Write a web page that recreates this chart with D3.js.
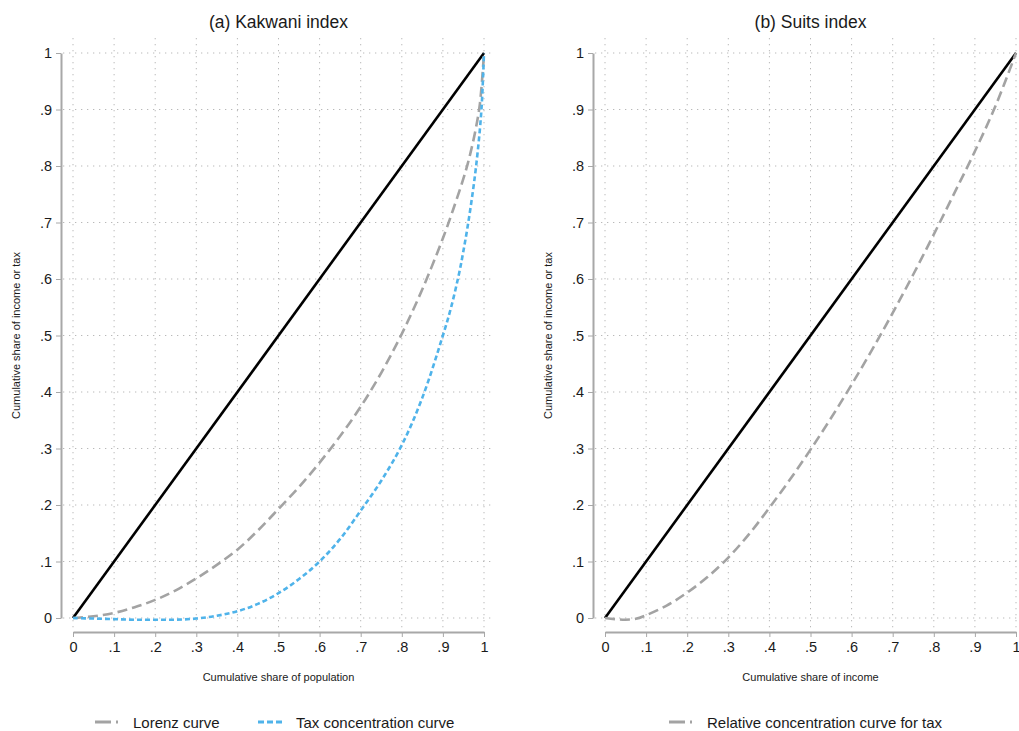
<!DOCTYPE html>
<html>
<head>
<meta charset="utf-8">
<script src="https://cdn.jsdelivr.net/npm/d3@7/dist/d3.min.js"></script>
<style>
  html, body { margin: 0; padding: 0; background: #fff; }
  svg { display: block; font-family: "Liberation Sans", Arial, sans-serif; }
</style>
</head>
<body>
<svg id="chart" width="1019" height="731"></svg>
<script>
// ---------------- DATA ----------------
const tickValues = [0, .1, .2, .3, .4, .5, .6, .7, .8, .9, 1];
const tickLabels = ["0", ".1", ".2", ".3", ".4", ".5", ".6", ".7", ".8", ".9", "1"];

const equalityX = [0, 1];
const equalityY = [0, 1];

const lorenzX = [0, .05, .1, .15, .2, .25, .3, .35, .4, .45, .5, .55, .6, .65, .7, .75, .8, .85, .9, .925, .95, .96, .97, .98, .99, 1];
const lorenzY = [0, .003, .009, .019, .032, .049, .07, .094, .121, .155, .193, .232, .275, .322, .374, .434, .503, .582, .672, .723, .778, .803, .832, .866, .91, 1];

const taxX = [0, .05, .1, .15, .2, .25, .3, .35, .4, .45, .5, .55, .6, .65, .7, .75, .8, .85, .9, .92, .94, .95, .96, .97, .98, .99, .995, 1];
const taxY = [0, -.001, -.002, -.003, -.003, -.003, -.001, .004, .012, .025, .044, .069, .1, .14, .19, .243, .306, .39, .5, .55, .612, .65, .692, .74, .795, .865, .915, 1];

const relX = [0, .025, .05, .075, .1, .15, .2, .25, .3, .35, .4, .45, .5, .55, .6, .65, .7, .75, .8, .85, .9, .95, 1];
const relY = [0, -.002, -.003, -.0015, .005, .022, .045, .073, .107, .148, .195, .245, .298, .354, .413, .475, .54, .608, .679, .752, .826, .906, 1];

const panelTitles = ["(a) Kakwani index", "(b) Suits index"];
const xTitles = ["Cumulative share of population", "Cumulative share of income"];
const yTitle = "Cumulative share of income or tax";
const legendA = ["Lorenz curve", "Tax concentration curve"];
const legendB = ["Relative concentration curve for tax"];

// ---------------- STYLES ----------------
const GRAY = "#a3a3a3";
const BLUE = "#4fb3ea";
const AXIS = "#a8a8a8";
const GRID = "#b9b9b9";

const svg = d3.select("#chart");

function zip(xs, ys) { return xs.map((x, i) => [x, ys[i]]); }

function panel(cfg) {
  const x = d3.scaleLinear().domain([0, 1]).range([cfg.x0, cfg.x1]);
  const y = d3.scaleLinear().domain([0, 1]).range([618, 53]);
  const g = svg.append("g");

  const gx0 = cfg.x0 - 10, gx1 = cfg.x1 + 11, gy0 = 38, gy1 = 628;
  g.append("g").selectAll("line.v").data(tickValues).join("line")
    .attr("x1", d => x(d)).attr("x2", d => x(d))
    .attr("y1", gy0).attr("y2", gy1)
    .attr("stroke", GRID).attr("stroke-width", 1).attr("stroke-dasharray", "1.3,4.7");
  g.append("g").selectAll("line.h").data(tickValues).join("line")
    .attr("x1", gx0).attr("x2", gx1)
    .attr("y1", d => y(d)).attr("y2", d => y(d))
    .attr("stroke", GRID).attr("stroke-width", 1).attr("stroke-dasharray", "1.3,4.7");

  const yAxis = d3.axisLeft(y).tickValues(tickValues).tickFormat((d, i) => tickLabels[i])
    .tickSize(5).tickPadding(4).tickSizeOuter(0);
  const ya = g.append("g").attr("transform", `translate(${cfg.x0 - 12},0)`).call(yAxis);
  const xAxis = d3.axisBottom(x).tickValues(tickValues).tickFormat((d, i) => tickLabels[i])
    .tickSize(5).tickPadding(5).tickSizeOuter(0);
  const xa = g.append("g").attr("transform", `translate(0,632)`).call(xAxis);
  [ya, xa].forEach(a => {
    a.select(".domain").attr("stroke", AXIS).attr("stroke-width", 2);
    a.selectAll(".tick line").attr("stroke", AXIS).attr("stroke-width", 1);
    a.selectAll(".tick text").attr("fill", "#1a1a1a").style("font-size", "14.5px")
      .style("font-family", '"Liberation Sans", Arial, sans-serif');
  });

  g.append("text").attr("x", (cfg.x0 + cfg.x1) / 2).attr("y", 28).attr("text-anchor", "middle")
    .attr("fill", "#1a1a1a").style("font-size", "17.5px").text(cfg.title);
  g.append("text").attr("x", (cfg.x0 + cfg.x1) / 2).attr("y", 681).attr("text-anchor", "middle")
    .attr("fill", "#1a1a1a").style("font-size", "11px").text(cfg.xTitle);
  g.append("text").attr("transform", `translate(${cfg.yTitleX},${y(0.5)}) rotate(-90)`)
    .attr("text-anchor", "middle").attr("fill", "#1a1a1a").style("font-size", "11px").text(yTitle);

  const line = d3.line().x(d => x(d[0])).y(d => y(d[1])).curve(d3.curveCatmullRom.alpha(0.5));
  cfg.series.forEach(s => {
    g.append("path").datum(zip(s.xs, s.ys)).attr("d", line)
      .attr("fill", "none").attr("stroke", s.color).attr("stroke-width", s.width)
      .attr("stroke-dasharray", s.dash || null).attr("stroke-linecap", "butt");
  });

  cfg.legend.forEach(l => {
    g.append("line").attr("x1", l.x).attr("x2", l.x + 24).attr("y1", 722).attr("y2", 722)
      .attr("stroke", l.color).attr("stroke-width", 3).attr("stroke-dasharray", l.dash);
    g.append("text").attr("x", l.x + 38).attr("y", 727.5).attr("fill", "#1a1a1a")
      .style("font-size", "15px").text(l.label);
  });
}

panel({
  x0: 73, x1: 484, yTitleX: 20,
  title: panelTitles[0], xTitle: xTitles[0],
  series: [
    { xs: equalityX, ys: equalityY, color: "#000", width: 2.6 },
    { xs: lorenzX, ys: lorenzY, color: GRAY, width: 2.6, dash: "10,5" },
    { xs: taxX, ys: taxY, color: BLUE, width: 2.6, dash: "5,3" }
  ],
  legend: [
    { x: 95, color: GRAY, dash: "16,5,2,100", label: legendA[0] },
    { x: 258, color: BLUE, dash: "6,3", label: legendA[1] }
  ]
});

panel({
  x0: 605, x1: 1016, yTitleX: 552,
  title: panelTitles[1], xTitle: xTitles[1],
  series: [
    { xs: equalityX, ys: equalityY, color: "#000", width: 2.6 },
    { xs: relX, ys: relY, color: GRAY, width: 2.6, dash: "10,5" }
  ],
  legend: [
    { x: 669, color: GRAY, dash: "16,5,2,100", label: legendB[0] }
  ]
});
</script>
</body>
</html>
